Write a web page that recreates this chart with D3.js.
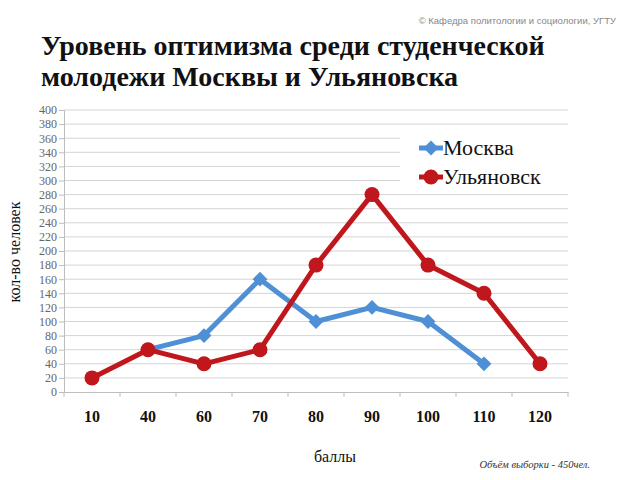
<!DOCTYPE html>
<html><head><meta charset="utf-8">
<script src="https://cdn.jsdelivr.net/npm/d3@7"></script>
<style>body{margin:0;background:#fff}svg{display:block}</style>
</head><body>
<script>
const categories = ["10","40","60","70","80","90","100","110","120"];
const moscow = [null,60,80,160,100,120,100,40,null];
const ulyanovsk = [20,60,40,60,180,280,180,140,40];
const yTicks = d3.range(0,401,20);
const seriesNames = ["Москва","Ульяновск"];

const W=640,H=480;
const svg=d3.select("body").append("svg").attr("width",W).attr("height",H);
const serif="Liberation Serif, DejaVu Serif, serif";

const x=d3.scaleBand().domain(categories).range([64,568]);
const y=d3.scaleLinear().domain([0,400]).range([392,110]);

// grid
svg.append("g").selectAll("line").data(yTicks.filter(d=>d>0)).join("line")
 .attr("x1",64).attr("x2",568).attr("y1",d=>y(d)).attr("y2",d=>y(d))
 .attr("stroke","#d4d4d4").attr("stroke-width",1);

// y axis
const ya=svg.append("g").attr("transform","translate(64,0)")
 .call(d3.axisLeft(y).tickValues(yTicks).tickSize(5).tickPadding(2));
ya.select(".domain").attr("stroke","#bdbdbd");
ya.selectAll(".tick line").attr("stroke","#bdbdbd");
ya.selectAll("text").style("font-family",serif).attr("font-size",12).attr("fill","#666");

// x axis
const xa=svg.append("g").attr("transform","translate(0,392)")
 .call(d3.axisBottom(x).tickSize(0).tickPadding(19));
xa.select(".domain").attr("stroke","#bdbdbd");
xa.selectAll("text").style("font-family",serif).attr("font-size",16).attr("font-weight","bold").attr("fill","#111");
svg.append("g").selectAll("line").data(d3.range(categories.length+1)).join("line")
 .attr("x1",i=>64+i*x.step()).attr("x2",i=>64+i*x.step()).attr("y1",392).attr("y2",397)
 .attr("stroke","#bdbdbd");

const cx=c=>x(c)+x.bandwidth()/2;
const line=d3.line().defined(d=>d.v!=null).x(d=>cx(d.c)).y(d=>y(d.v));
const mData=categories.map((c,i)=>({c,v:moscow[i]}));
const uData=categories.map((c,i)=>({c,v:ulyanovsk[i]}));
const blue="#4e8fd5", red="#c0171c";

svg.append("path").datum(mData).attr("d",line).attr("fill","none").attr("stroke",blue).attr("stroke-width",5).attr("stroke-linejoin","round");
svg.append("path").datum(uData).attr("d",line).attr("fill","none").attr("stroke",red).attr("stroke-width",5).attr("stroke-linejoin","round");

const diamond=d3.symbol().type(d3.symbolSquare).size(110);
svg.append("g").selectAll("path").data(mData.filter(d=>d.v!=null)).join("path")
 .attr("d",diamond).attr("transform",d=>`translate(${cx(d.c)},${y(d.v)}) rotate(45)`).attr("fill",blue);
svg.append("g").selectAll("circle").data(uData).join("circle")
 .attr("cx",d=>cx(d.c)).attr("cy",d=>y(d.v)).attr("r",7.5).attr("fill",red);

// legend
const lg=svg.append("g");
lg.append("rect").attr("x",400).attr("y",128).attr("width",168).attr("height",64).attr("fill","#fff");
[[blue,seriesNames[0],148],[red,seriesNames[1],177]].forEach(([col,name,yy],i)=>{
  lg.append("line").attr("x1",419).attr("x2",443).attr("y1",yy).attr("y2",yy).attr("stroke",col).attr("stroke-width",5);
  if(i===0) lg.append("path").attr("d",diamond).attr("transform",`translate(431,${yy}) rotate(45)`).attr("fill",col);
  else lg.append("circle").attr("cx",431).attr("cy",yy).attr("r",7.5).attr("fill",col);
  lg.append("text").attr("x",443).attr("y",yy+7).style("font-family",serif).attr("font-size",22).attr("fill","#111").text(name);
});

// titles
svg.append("text").attr("x",41).attr("y",55).style("font-family",serif).attr("font-size",28).attr("font-weight","bold").attr("fill","#111").text("Уровень оптимизма среди студенческой");
svg.append("text").attr("x",41).attr("y",86).style("font-family",serif).attr("font-size",28).attr("font-weight","bold").attr("fill","#111").text("молодежи Москвы и Ульяновска");
svg.append("text").attr("x",616).attr("y",24).attr("text-anchor","end").style("font-family","Liberation Sans, Arial, sans-serif").attr("font-size",9.5).attr("fill","#888").text("© Кафедра политологии и социологии, УГТУ");

svg.append("text").attr("x",335).attr("y",462).attr("text-anchor","middle").style("font-family",serif).attr("font-size",16).attr("fill","#111").text("баллы");
svg.append("text").attr("transform","translate(20,252) rotate(-90)").attr("text-anchor","middle").style("font-family",serif).attr("font-size",16).attr("fill","#111").text("кол-во человек");
svg.append("text").attr("x",590).attr("y",468).attr("text-anchor","end").style("font-family",serif).attr("font-size",10.5).attr("font-style","italic").attr("fill","#333").text("Объём выборки - 450чел.");
</script>
</body></html>
